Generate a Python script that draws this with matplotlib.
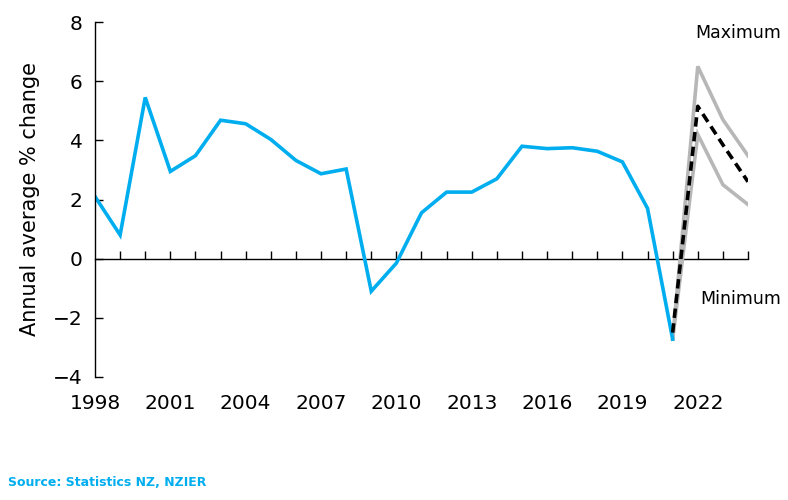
import matplotlib
matplotlib.use("Agg")
import matplotlib.pyplot as plt
import numpy as np

# ── data ─────────────────────────────────────────────
years = list(range(1998, 2022))
actual = [2.1, 0.8, 5.45, 2.95, 3.48, 4.68, 4.56, 4.03, 3.32, 2.87, 3.03,
          -1.1, -0.15, 1.55, 2.25, 2.25, 2.7, 3.8, 3.72, 3.75, 3.63, 3.27,
          1.7, -2.72]

fc_years = [2021, 2022, 2023, 2024]
fc_max = [-2.72, 6.5, 4.7, 3.48]
fc_mean = [-2.5, 5.15, 3.85, 2.6]
fc_min = [-2.72, 4.2, 2.5, 1.83]

BLUE = "#00AEEF"
GREY = "#B7B7B7"

fig = plt.figure(figsize=(7.88, 5.0), dpi=100)
ax = fig.add_axes([95 / 788, 1 - 377 / 500, (748 - 95) / 788, (377 - 22) / 500])

ax.plot(fc_years, fc_max, color=GREY, lw=2.6, solid_joinstyle="miter")
ax.plot(fc_years, fc_min, color=GREY, lw=2.6, solid_joinstyle="miter")
ax.plot(years, actual, color=BLUE, lw=2.6, solid_joinstyle="miter")
ax.plot(fc_years, fc_mean, color="black", lw=2.6, ls=(0, (2.6, 1.5)))

ax.set_xlim(1998, 2024)
ax.set_ylim(-4, 8)
ax.set_yticks(np.arange(-4, 9, 2))
ax.set_xticks(range(1998, 2023, 3))

for s in ["top", "right", "bottom"]:
    ax.spines[s].set_visible(False)
ax.spines["left"].set_linewidth(1.0)
ax.tick_params(axis="y", direction="in", length=6, width=1.0, labelsize=14.5, pad=9)
ax.tick_params(axis="x", length=0, labelsize=14.5, pad=12)

# zero line with yearly tick marks pointing up
zero = ax.secondary_xaxis(4 / 12)
zero.set_xticks(range(1999, 2025))
zero.tick_params(direction="in", length=6, width=1.0, labelbottom=False)
zero.set_xticklabels([])
zero.spines["bottom"].set_linewidth(1.0)

ax.set_ylabel("Annual average % change", fontsize=15, labelpad=9)

ax.text(2025.3, 7.63, "Maximum", fontsize=12.5, ha="right", va="center")
ax.text(2025.3, -1.38, "Minimum", fontsize=12.5, ha="right", va="center")

fig.text(8 / 788, 1 - 483 / 500, "Source: Statistics NZ, NZIER", color=BLUE,
         fontsize=9, fontweight="bold", va="center")

fig.savefig("out.png", dpi=100)
